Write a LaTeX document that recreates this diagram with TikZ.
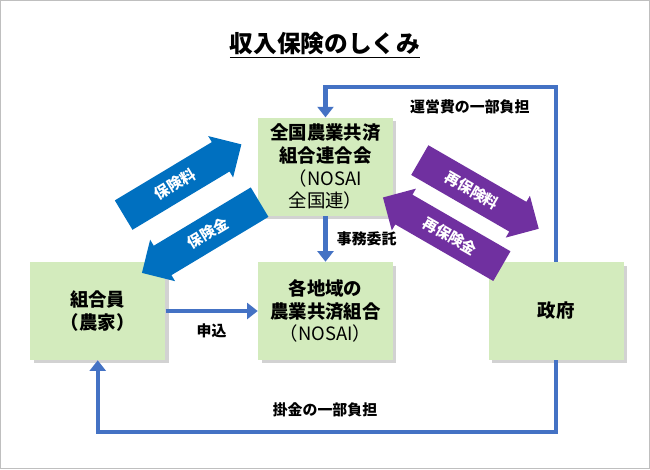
\documentclass[tikz,border=0pt]{standalone}
\usepackage{fontspec}
\setmainfont{Noto Sans CJK JP}
\usetikzlibrary{shapes.arrows,shadows,arrows.meta}
\definecolor{boxgreen}{HTML}{D3EBBD}
\definecolor{linkblue}{HTML}{4472C4}
\definecolor{arrblue}{HTML}{0070C0}
\definecolor{arrpurple}{HTML}{7030A0}
\tikzset{
  box/.style={fill=boxgreen, minimum width=2.7cm, minimum height=1.96cm, align=center,
    font=\fontsize{10.5}{13}\selectfont, drop shadow={opacity=0.35, shadow xshift=2pt, shadow yshift=-2pt}},
  link/.style={draw=linkblue, line width=2.3pt, -{Triangle[length=6pt,width=9pt]}},
  lbl/.style={font=\bfseries\fontsize{8.5}{10}\selectfont},
  blk/.style={single arrow, single arrow head extend=0.14cm, minimum height=2.75cm,
    inner ysep=5.5pt, text=white, font=\bfseries\fontsize{8.5}{10}\selectfont}
}
\begin{document}
\begin{tikzpicture}[x=0.02cm,y=-0.02cm]
\draw[gray!50, fill=white] (0,0) rectangle (650,469);
% title
\node (title) at (325,45) {\bfseries\fontsize{13.5}{16}\selectfont\underline{収入保険のしくみ}};
% boxes
\node[box] (zen) at (325.5,166.5) {\textbf{全国農業共済}\\\textbf{組合連合会}\\（NOSAI\\全国連）};
\node[box] (chiiki) at (325.5,311) {\textbf{各地域の}\\\textbf{農業共済組合}\\（NOSAI）};
\node[box] (kumi) at (97.5,311) {\textbf{組合員}\\\textbf{（農家）}};
\node[box] (seifu) at (556.5,311) {\textbf{政府}};
% connectors
\draw[link] (zen.south) -- (chiiki.north) node[midway, right=2pt, lbl] {事務委託};
\draw[link] (kumi.east) -- (chiiki.west) node[midway, below=3pt, lbl] {申込};
\draw[link] (seifu.north) -- ++(0,-175) -| (zen.north);
\node[lbl] (unei) at (470,107) {運営費の一部負担};
\draw[link] (seifu.south) -- ++(0,72) -| (kumi.south);
\node[lbl] (kake) at (325,410) {掛金の一部負担};
% block arrows
\node[blk, fill=arrblue, rotate=31] (hryo) at (175,184) {保険料};
\node[blk, fill=arrblue, rotate=31, shape border rotate=180] (hkin) at (208,233) {保険金};
\node[blk, fill=arrpurple, rotate=-30] (shryo) at (472,190) {再保険料};
\node[blk, fill=arrpurple, rotate=-30, shape border rotate=180] (shkin) at (450,236) {再保険金};
\end{tikzpicture}
\end{document}
